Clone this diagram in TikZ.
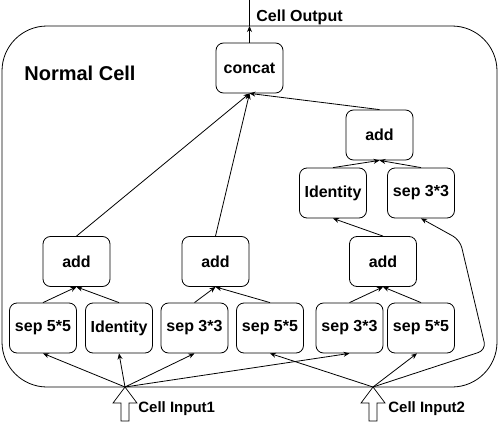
\documentclass[tikz,border=0pt]{standalone}
\usepackage{fontspec}
\setmainfont{Liberation Sans}
\usetikzlibrary{arrows.meta,positioning}

\begin{document}
\begin{tikzpicture}[x=1pt, y=-1pt, line width=0.8pt,
    op/.style={draw, rounded corners=7.5pt, minimum width=67pt, minimum height=50pt,
               inner sep=0pt, font=\fontsize{16}{19}\selectfont\bfseries},
    lbl/.style={anchor=west, inner sep=0pt, font=\fontsize{15}{18}\selectfont\bfseries},
    flow/.style={-{Stealth[length=6pt,width=5pt]}}]
                \useasboundingbox (0,0) rectangle (498,423);

                % cell border
                \draw[rounded corners=45pt] (2,26) rectangle (497,387);
                \node[anchor=west, inner sep=0pt, font=\fontsize{20}{24}\selectfont\bfseries] (title) at (24,73) {Normal Cell};

                \node[op] (concat) at (249.5,68)  {concat};
                \node[op] (add3)   at (379.5,135) {add};
                \node[op] (id2)    at (333,193)   {Identity};
                \node[op] (sep3b)  at (421,193)   {sep 3*3};

                \node[op] (add1)   at (76.5,261.5) {add};
                \node[op] (add2)   at (215.5,261.5) {add};
                \node[op] (addR)   at (383,261.5) {add};

                \node[op] (sepA)   at (43,328)    {sep 5*5};
                \node[op] (idA)    at (119,328)   {Identity};
                \node[op] (sepB)   at (194.5,328) {sep 3*3};
                \node[op] (sepC)   at (270,328)   {sep 5*5};
                \node[op] (sepD)   at (349.5,328) {sep 3*3};
                \node[op] (sepE)   at (421,328)   {sep 5*5};

                % output
                \coordinate (out) at (249.5,26);
                \coordinate (top) at (249.5,0);
                \draw[flow] (concat) -- (out);
                \draw (out) -- (top);
                \node[lbl, font=\fontsize{16}{19}\selectfont\bfseries] (outtext) at (256,17) {Cell Output};

                % inputs
                \coordinate (in1) at (125,387);
                \coordinate (in2) at (373,387);
                \foreach \p in {in1,in2} {
                    \draw[line width=0.7pt] (\p) -- ++(-12,16) -- ++(8,0) -- ++(0,18) -- ++(8,0)
                          -- ++(0,-18) -- ++(8,0) -- cycle;
                }
                \node[lbl] (in1text) at (138,409) {Cell Input1};
                \node[lbl] (in2text) at (388,409) {Cell Input2};

                \path[flow] (in1) edge (sepA.south)
                            (in1) edge (idA.south)
                            (in1) edge (sepB.south)
                            (in1) edge (sepD.south)
                            (in2) edge (sepC.south)
                            (in2) edge ([xshift=-4pt]sepE.south);
                \coordinate (bendlow)  at (486,350);
                \coordinate (bendhigh) at (460,240);
                \draw[flow, rounded corners=8pt] (in2) -- (bendlow) -- (bendhigh) -- (sep3b.south);

                \path[flow] (sepA.north) edge (add1.south)
                            (idA.north)  edge (add1.south)
                            (sepB.north) edge (add2.south)
                            (sepC.north) edge (add2.south)
                            (sepD.north) edge (addR.south)
                            (sepE.north) edge (addR.south)
                            (addR.north) edge (id2.south)
                            (id2.north)  edge (add3.south)
                            (sep3b.north) edge (add3.south)
                            (add1.north) edge (concat.south)
                            (add2.north) edge (concat.south)
                            (add3.north) edge (concat.south);
            \end{tikzpicture}
\end{document}
